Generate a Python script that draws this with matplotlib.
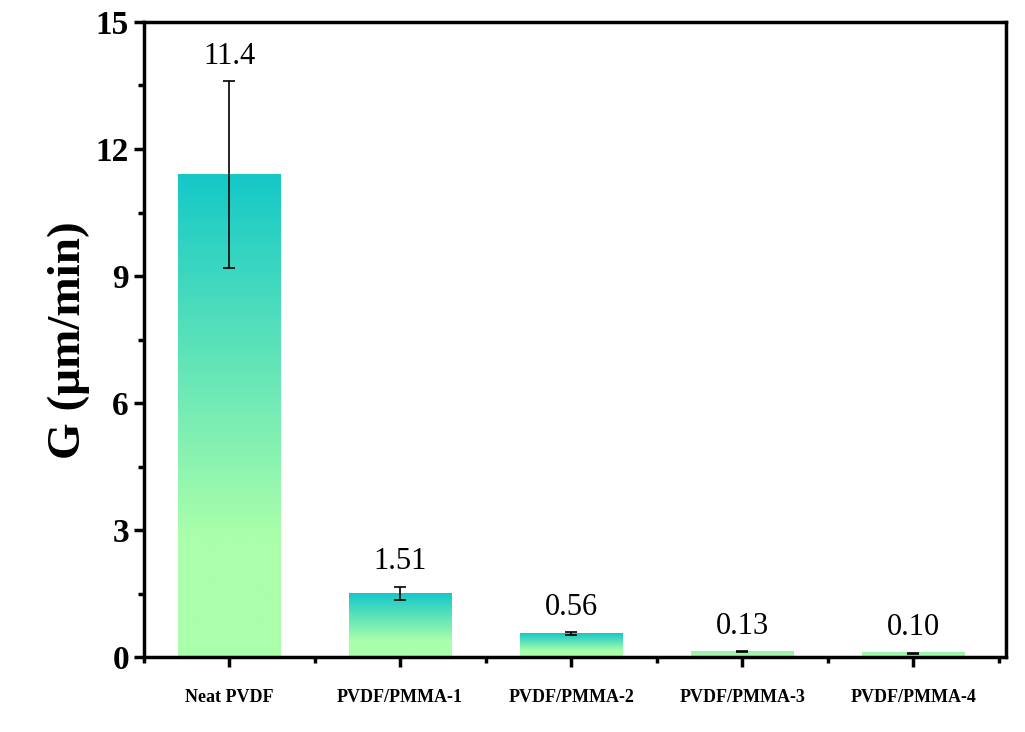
import matplotlib
matplotlib.use('Agg')
import matplotlib.pyplot as plt
import numpy as np
from matplotlib.colors import LinearSegmentedColormap
from matplotlib.ticker import MultipleLocator

samples = ['Neat PVDF', 'PVDF/PMMA-1', 'PVDF/PMMA-2', 'PVDF/PMMA-3', 'PVDF/PMMA-4']
rates = [11.4, 1.51, 0.56, 0.13, 0.10]
errors = [2.2, 0.15, 0.03, 0.01, 0.01]
labels = ['11.4', '1.51', '0.56', '0.13', '0.10']

plt.rcParams['font.family'] = ['Liberation Serif', 'DejaVu Serif']
cmap = LinearSegmentedColormap.from_list('g', [(0, '#aaffaa'), (0.25, '#aaffaa'), (1, '#14c8c8')])
flat = LinearSegmentedColormap.from_list('f', ['#a8fba8', '#9cf0b0'])

fig = plt.figure(figsize=(10.25, 7.32), dpi=100)
ax = fig.add_axes([0.14, 0.102, 0.841, 0.868])
x = np.arange(len(samples))
width = 0.6
grad = np.linspace(0, 1, 256).reshape(-1, 1)
for xi, v in zip(x, rates):
    cm = cmap if v > 0.3 else flat
    ax.imshow(grad, cmap=cm, origin='lower', aspect='auto',
              extent=(xi - width / 2, xi + width / 2, 0, v), zorder=1)
ax.errorbar(x, rates, yerr=errors, fmt='none', ecolor='black', elinewidth=1.2,
            capsize=4, capthick=1.2, zorder=3)
for xi, v, e, t in zip(x, rates, errors, labels):
    ax.text(xi, v + e + 0.25, t, ha='center', va='bottom', fontsize=22, zorder=4)

ax.set_xlim(-0.5, 4.54)
ax.set_ylim(0, 15)
ax.set_xticks(x)
ax.set_xticklabels(samples, fontsize=13, fontweight='bold')
ax.xaxis.set_minor_locator(MultipleLocator(1, offset=0.5))
ax.yaxis.set_major_locator(MultipleLocator(3))
ax.yaxis.set_minor_locator(MultipleLocator(1.5))
ax.tick_params(axis='y', labelsize=24)
for lb in ax.get_yticklabels():
    lb.set_fontweight('bold')
ax.tick_params(which='major', direction='out', length=7, width=2.5)
ax.tick_params(which='minor', direction='out', length=4, width=2.5)
ax.tick_params(axis='x', pad=16)
for s in ax.spines.values():
    s.set_linewidth(2.5)
ax.set_ylabel('G (μm/min)', fontsize=34, fontweight='bold')
fig.savefig('out.png')
